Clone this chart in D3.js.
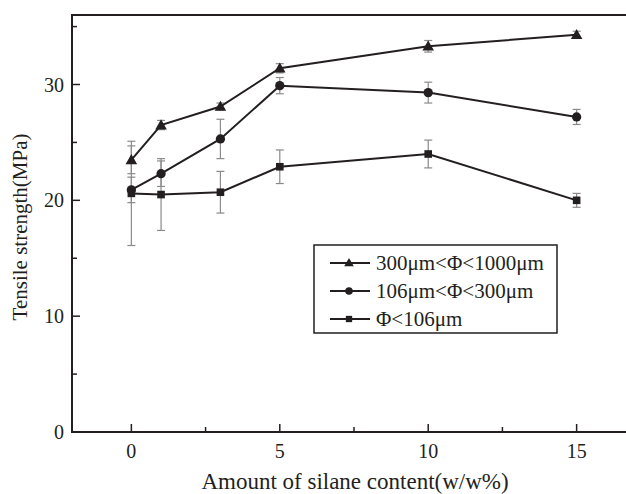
<!DOCTYPE html>
<html>
<head>
<meta charset="utf-8">
<script src="https://cdn.jsdelivr.net/npm/d3@7"></script>
<style>
  body { margin: 0; background: #fff; }
  text { font-family: "Liberation Serif", "Times New Roman", serif; fill: #231f20; }
</style>
</head>
<body>
<svg width="626" height="494"></svg>
<script>
var svg = d3.select("svg"),
  width = +svg.attr("width"),
  height = +svg.attr("height");

// silane content (w/w%)
var silane = [0, 1, 3, 5, 10, 15];

var seriesNames = ["300\u03bcm<\u03a6<1000\u03bcm", "106\u03bcm<\u03a6<300\u03bcm", "\u03a6<106\u03bcm"];
var seriesShapes = ["triangle", "circle", "square"];

var coarse = [23.5, 26.5, 28.1, 31.4, 33.3, 34.3];
var coarseErr = [1.2, 0.4, 0.3, 0.4, 0.5, 0.3];
var medium = [20.9, 22.3, 25.3, 29.9, 29.3, 27.2];
var mediumErr = [1.1, 1.1, 1.7, 0.7, 0.9, 0.65];
var fine = [20.6, 20.5, 20.7, 22.9, 24.0, 20.0];
var fineErr = [4.5, 3.1, 1.8, 1.45, 1.2, 0.6];

var xTicks = [0, 5, 10, 15];
var xMinor = [2.5, 7.5, 12.5];
var yTicks = [0, 10, 20, 30];
var yMinor = [5, 15, 25, 35];

var plotLeft = 72, plotTop = 15, plotBottom = 432, plotRight = 636;

var x = d3.scaleLinear().domain([-2, 17]).range([plotLeft, plotRight]);
var y = d3.scaleLinear().domain([0, 36]).range([plotBottom, plotTop]);

var ink = "#231f20";

// frame
svg.append("rect")
  .attr("x", plotLeft).attr("y", plotTop)
  .attr("width", plotRight - plotLeft).attr("height", plotBottom - plotTop)
  .attr("fill", "none").attr("stroke", ink).attr("stroke-width", 2);

// x axis ticks (inward)
var xAxis = svg.append("g");
xAxis.selectAll("line.major").data(xTicks).enter().append("line")
  .attr("x1", d => x(d)).attr("x2", d => x(d))
  .attr("y1", plotBottom).attr("y2", plotBottom - 8)
  .attr("stroke", ink).attr("stroke-width", 1.5);
xAxis.selectAll("line.minor").data(xMinor).enter().append("line")
  .attr("x1", d => x(d)).attr("x2", d => x(d))
  .attr("y1", plotBottom).attr("y2", plotBottom - 5)
  .attr("stroke", ink).attr("stroke-width", 1.5);
xAxis.selectAll("text").data(xTicks).enter().append("text")
  .attr("x", d => x(d)).attr("y", 458)
  .attr("text-anchor", "middle")
  .style("font-size", "20px")
  .text(d => d);

// y axis ticks (inward)
var yAxis = svg.append("g");
yAxis.selectAll("line.major").data(yTicks).enter().append("line")
  .attr("x1", plotLeft).attr("x2", plotLeft + 8)
  .attr("y1", d => y(d)).attr("y2", d => y(d))
  .attr("stroke", ink).attr("stroke-width", 1.5);
yAxis.selectAll("line.minor").data(yMinor).enter().append("line")
  .attr("x1", plotLeft).attr("x2", plotLeft + 5)
  .attr("y1", d => y(d)).attr("y2", d => y(d))
  .attr("stroke", ink).attr("stroke-width", 1.5);
yAxis.selectAll("text").data(yTicks).enter().append("text")
  .attr("x", 64).attr("y", d => y(d) + 7)
  .attr("text-anchor", "end")
  .style("font-size", "20px")
  .text(d => d);

// axis titles
svg.append("text")
  .attr("x", 355).attr("y", 489)
  .attr("text-anchor", "middle")
  .style("font-size", "23px")
  .text("Amount of silane content(w/w%)");

svg.append("text")
  .attr("transform", "translate(27,227) rotate(-90)")
  .attr("text-anchor", "middle")
  .style("font-size", "21px")
  .text("Tensile strength(MPa)");

function symbolFor(shape, size) {
  var t = shape === "triangle" ? d3.symbolTriangle : shape === "circle" ? d3.symbolCircle : d3.symbolSquare;
  return d3.symbol().type(t).size(size)();
}

var series = [
  { name: seriesNames[0], shape: seriesShapes[0], values: coarse, errs: coarseErr },
  { name: seriesNames[1], shape: seriesShapes[1], values: medium, errs: mediumErr },
  { name: seriesNames[2], shape: seriesShapes[2], values: fine, errs: fineErr }
];

var line = d3.line().x(d => x(d[0])).y(d => y(d[1]));

// error bars first (drawn behind)
series.slice().reverse().forEach(function (s) {
  var g = svg.append("g").attr("stroke", "#8a8a8a").attr("stroke-width", 1.2);
  silane.forEach(function (xv, i) {
    var v = s.values[i], e = s.errs[i];
    g.append("line").attr("x1", x(xv)).attr("x2", x(xv))
      .attr("y1", y(v + e)).attr("y2", y(v - e));
    [v + e, v - e].forEach(function (c) {
      g.append("line").attr("x1", x(xv) - 4).attr("x2", x(xv) + 4)
        .attr("y1", y(c)).attr("y2", y(c));
    });
  });
});

series.forEach(function (s) {
  var pts = silane.map((xv, i) => [xv, s.values[i]]);
  svg.append("path").datum(pts)
    .attr("d", line)
    .attr("fill", "none").attr("stroke", ink).attr("stroke-width", 2);
  svg.append("g").selectAll("path").data(pts).enter().append("path")
    .attr("transform", d => "translate(" + x(d[0]) + "," + (y(d[1]) + (s.shape === "triangle" ? 1 : 0)) + ")")
    .attr("d", symbolFor(s.shape, s.shape === "circle" ? 68 : 58))
    .attr("fill", ink);
});

// legend
var lg = svg.append("g");
lg.append("rect")
  .attr("x", 314).attr("y", 245).attr("width", 243).attr("height", 88)
  .attr("fill", "#fff").attr("stroke", ink).attr("stroke-width", 1.5);
var rowY = [263, 291, 319];
series.forEach(function (s, i) {
  var ry = rowY[i];
  lg.append("line").attr("x1", 330).attr("x2", 370)
    .attr("y1", ry).attr("y2", ry)
    .attr("stroke", ink).attr("stroke-width", 2);
  lg.append("path")
    .attr("transform", "translate(349," + (ry + (s.shape === "triangle" ? 0.5 : 0)) + ")")
    .attr("d", symbolFor(s.shape, s.shape === "circle" ? 45 : 40))
    .attr("fill", ink);
  lg.append("text")
    .attr("x", 376).attr("y", ry + 7)
    .style("font-size", "21px")
    .text(s.name);
});
</script>
</body>
</html>
